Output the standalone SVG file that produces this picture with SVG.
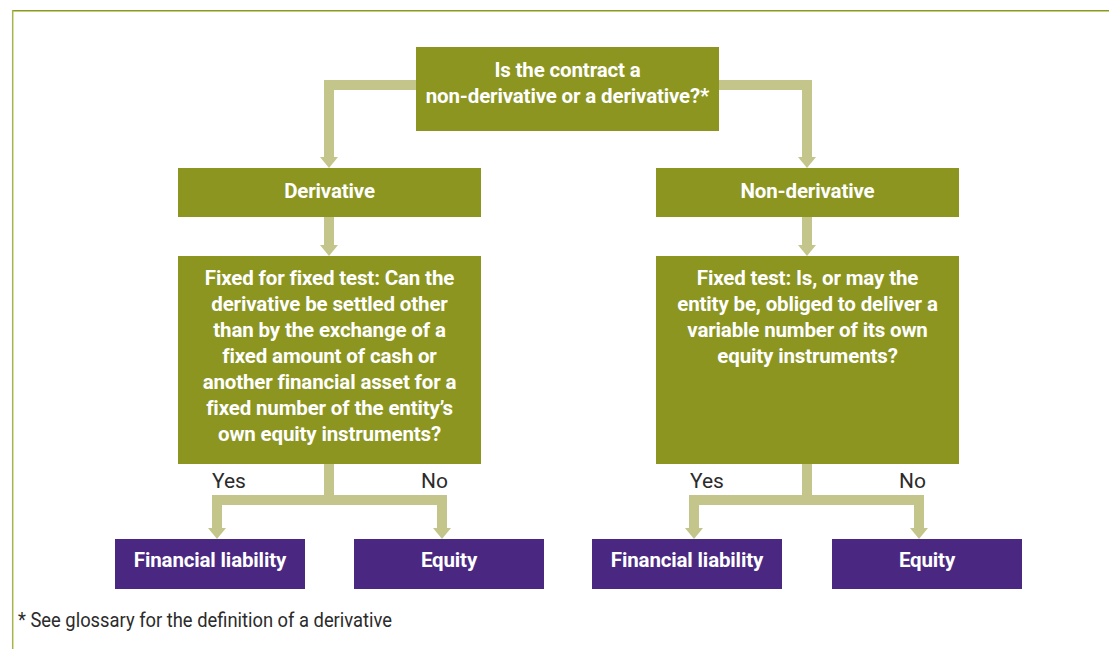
<svg xmlns="http://www.w3.org/2000/svg" width="1109" height="649" viewBox="0 0 1109 649">
  <style>
    .q { fill: #8c9520; }
    .r { fill: #4a2882; }
    .t { font-family: Roboto, "Liberation Sans", sans-serif; font-weight: bold; font-size: 20.5px; letter-spacing: -0.15px; fill: #ffffff; text-anchor: middle; }
    .lbl { font-family: Roboto, "Liberation Sans", sans-serif; font-size: 21px; fill: #2b2b2b; }
    .c { fill: none; stroke: #c3c58a; stroke-width: 10; stroke-linejoin: miter; }
  </style>
  <defs>
    <marker id="ah" markerUnits="userSpaceOnUse" markerWidth="12" markerHeight="20" refX="0" refY="9" orient="auto" viewBox="0 0 12 18">
      <path d="M0,0 L11,9 L0,18 z" fill="#c3c58a"/>
    </marker>
  </defs>
  <rect x="0" y="0" width="1109" height="649" fill="#ffffff"/>
  <g id="frame">
    <line x1="12" y1="10.7" x2="1109" y2="10.7" stroke="#8c9a1c" stroke-width="1.5"/>
    <line x1="12.7" y1="10" x2="12.7" y2="649" stroke="#aab24a" stroke-width="1.5"/>
  </g>
  <g id="connectors">
    <path class="c" d="M420,85 H329 V157" marker-end="url(#ah)"/>
    <path class="c" d="M715,85 H807 V157" marker-end="url(#ah)"/>
    <path class="c" d="M329,213 V245" marker-end="url(#ah)"/>
    <path class="c" d="M807,213 V245" marker-end="url(#ah)"/>
    <path class="c" d="M329,460 V500 H217 V528" marker-end="url(#ah)"/>
    <path class="c" d="M329,460 V500 H442 V528" marker-end="url(#ah)"/>
    <path class="c" d="M807,460 V500 H694 V528" marker-end="url(#ah)"/>
    <path class="c" d="M807,460 V500 H919 V528" marker-end="url(#ah)"/>
    <text class="lbl" x="212" y="488">Yes</text>
    <text class="lbl" x="448" y="488" text-anchor="end">No</text>
    <text class="lbl" x="690" y="488">Yes</text>
    <text class="lbl" x="926" y="488" text-anchor="end">No</text>
  </g>
  <g id="n-question">
    <rect class="q" x="416" y="47" width="303" height="84"/>
    <text class="t" x="567.5" y="77">Is the contract a</text>
    <text class="t" x="567.5" y="103">non-derivative or a derivative?*</text>
  </g>
  <g id="n-derivative">
    <rect class="q" x="178" y="168" width="303" height="49"/>
    <text class="t" x="329.5" y="198">Derivative</text>
  </g>
  <g id="n-nonderivative">
    <rect class="q" x="656" y="168" width="303" height="49"/>
    <text class="t" x="807.5" y="198">Non-derivative</text>
  </g>
  <g id="n-fixedforfixed">
    <rect class="q" x="178" y="256" width="303" height="208"/>
    <text class="t" x="329.5" y="285">Fixed for fixed test: Can the</text>
    <text class="t" x="329.5" y="311">derivative be settled other</text>
    <text class="t" x="329.5" y="337">than by the exchange of a</text>
    <text class="t" x="329.5" y="363">fixed amount of cash or</text>
    <text class="t" x="329.5" y="389">another financial asset for a</text>
    <text class="t" x="329.5" y="415">fixed number of the entity’s</text>
    <text class="t" x="329.5" y="441">own equity instruments?</text>
  </g>
  <g id="n-fixedtest">
    <rect class="q" x="656" y="256" width="303" height="208"/>
    <text class="t" x="807.5" y="285">Fixed test: Is, or may the</text>
    <text class="t" x="807.5" y="311">entity be, obliged to deliver a</text>
    <text class="t" x="807.5" y="337">variable number of its own</text>
    <text class="t" x="807.5" y="363">equity instruments?</text>
  </g>
  <g id="n-liability1">
    <rect class="r" x="115" y="539" width="190" height="50"/>
    <text class="t" x="210" y="567">Financial liability</text>
  </g>
  <g id="n-equity1">
    <rect class="r" x="354" y="539" width="190" height="50"/>
    <text class="t" x="449" y="567">Equity</text>
  </g>
  <g id="n-liability2">
    <rect class="r" x="592" y="539" width="190" height="50"/>
    <text class="t" x="687" y="567">Financial liability</text>
  </g>
  <g id="n-equity2">
    <rect class="r" x="832" y="539" width="190" height="50"/>
    <text class="t" x="927" y="567">Equity</text>
  </g>
  <text class="lbl" x="18" y="627" font-size="19" textLength="374" lengthAdjust="spacingAndGlyphs">* See glossary for the definition of a derivative</text>
</svg>
